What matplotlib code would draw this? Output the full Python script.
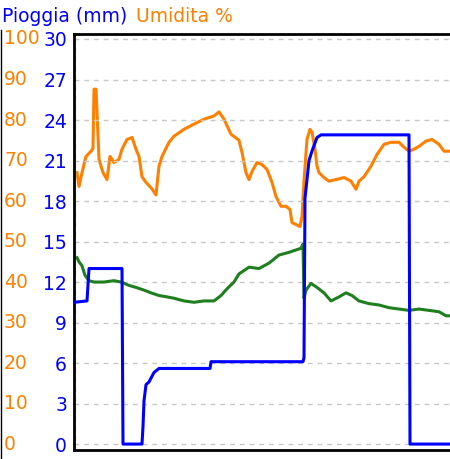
import matplotlib
matplotlib.use("Agg")
import matplotlib.pyplot as plt
from matplotlib import transforms
from matplotlib.lines import Line2D

# ---------------- data (time in minutes from chart start) ----------------
rain_t = [0, 65, 75, 240, 245, 340, 345, 350, 360, 375, 400, 425, 680, 685,
          1145, 1150, 1155, 1175, 1190, 1215, 1235, 1675, 1680, 1875]
rain_v = [10.5, 10.6, 13.0, 13.0, 0, 0, 1.3, 3.2, 4.4, 4.6, 5.3, 5.6, 5.6, 6.1,
          6.1, 6.4, 18.2, 21.0, 21.7, 22.7, 22.9, 22.9, 0, 0]

hum_t = [15, 25, 40, 60, 85, 95, 100, 110, 115, 125, 145, 165, 180, 190, 200,
         225, 240, 265, 290, 310, 325, 340, 360, 390, 410, 425, 440, 475, 500,
         550, 600, 650, 700, 725, 750, 785, 825, 840, 860, 875, 890, 915, 940,
         965, 990, 1010, 1035, 1060, 1080, 1090, 1130, 1140, 1150, 1165, 1180,
         1190, 1205, 1215, 1225, 1250, 1275, 1310, 1350, 1385, 1410, 1425, 1450,
         1485, 1515, 1550, 1585, 1625, 1650, 1675, 1700, 1725, 1760, 1790, 1825,
         1850, 1875]
hum_v = [67, 63.6, 67, 71, 72.3, 73, 87.6, 87.6, 82, 70.3, 67, 65.3, 71, 70.3,
         69.5, 70.3, 72.8, 75.2, 75.7, 72.8, 71, 66, 64.6, 63, 61.5, 68.6, 71,
         74.5, 76, 77.7, 79, 80.2, 81, 82, 80.2, 76.5, 75, 72, 67, 65.3, 67.3,
         69.5, 69, 67.8, 64.6, 61.1, 58.7, 58.7, 57.9, 54.7, 53.7, 56.2, 65,
         75.2, 77.7, 77, 72.8, 68.6, 67, 65.8, 64.9, 65.3, 65.8, 64.9, 62.9,
         64.9, 66, 68.6, 71.5, 74, 74.5, 74.5, 73.3, 72.3, 72.8, 73.5, 74.8,
         75.2, 74, 72.3, 72.3]

temp_t = [15, 25, 40, 55, 75, 100, 150, 200, 235, 275, 310, 350, 385, 425, 465,
          500, 550, 600, 650, 700, 735, 765, 800, 825, 875, 925, 975, 1025,
          1075, 1135, 1145, 1150, 1160, 1185, 1215, 1250, 1285, 1325, 1360,
          1390, 1425, 1475, 1525, 1575, 1625, 1675, 1725, 1775, 1825, 1860, 1875]
temp_v = [13.8, 13.5, 13.2, 12.5, 12.1, 12.0, 12.0, 12.1, 12.0, 11.75, 11.6,
          11.4, 11.2, 11.0, 10.9, 10.8, 10.6, 10.5, 10.6, 10.6, 11.0, 11.5,
          12.0, 12.6, 13.1, 13.0, 13.4, 14.0, 14.2, 14.5, 14.8, 10.8, 11.4,
          11.9, 11.6, 11.2, 10.6, 10.9, 11.2, 11.0, 10.6, 10.4, 10.3, 10.1,
          10.0, 9.9, 10.0, 9.9, 9.8, 9.5, 9.5]

rain_ticks = list(range(0, 31, 3))
hum_ticks = list(range(0, 101, 10))

BLUE = "#0000ff"
ORANGE = "#ff8000"
GREEN = "#1f7f1f"
GRID = "#c8c8c8"

W, H = 450, 459
fig = plt.figure(figsize=(W / 100, H / 100), dpi=100)
plt.rcParams['font.family'] = ['DejaVu Sans']

L, R, T, B = 74, 450, 34, 450
ax = fig.add_axes([L / W, 1 - B / H, (R - L) / W, (B - T) / H])
ylo, yhi = -0.44, 30.37
ax.set_ylim(ylo, yhi)
ax.set_xlim(0, 1880)

ax2 = ax.twinx()
ax2.set_ylim(ylo * 100 / 30, yhi * 100 / 30)
ax2.set_axis_off()

for v in rain_ticks:
    ax.axhline(v, color=GRID, lw=1.0, dashes=(3.5, 3.5), zorder=0.5)
ax.axvline(3, color=GRID, lw=1.0, dashes=(3.5, 3.5), zorder=0.5)

ax2.plot(hum_t, hum_v, color=ORANGE, lw=2.2, zorder=2)
ax.plot(temp_t, temp_v, color=GREEN, lw=2.2, zorder=2)
ax.plot(rain_t, rain_v, color=BLUE, lw=2.2, zorder=3)
ax.set_zorder(ax2.get_zorder() + 1)
ax.patch.set_visible(False)

ax.set_yticks(rain_ticks)
ax.set_yticklabels([str(v) for v in rain_ticks], color=BLUE, fontsize=13.5)
ax.tick_params(axis='y', length=0, pad=5)
ax.set_xticks([])

for s in ['left', 'top', 'bottom']:
    ax.spines[s].set_linewidth(2.0)
    ax.spines[s].set_color('black')
ax.spines['right'].set_visible(False)

trans = transforms.blended_transform_factory(fig.transFigure, ax2.transData)
for v in hum_ticks:
    fig.text(4 / W, v, str(v), transform=trans, color=ORANGE, fontsize=13.5,
             ha='left', va='center')

fig.text(2 / W, 1 - 16 / H, "Pioggia (mm)", color=BLUE, fontsize=13.5,
         ha='left', va='center')
fig.text(136 / W, 1 - 16 / H, "Umidita %", color=ORANGE, fontsize=13.5,
         ha='left', va='center')

fig.add_artist(Line2D([0.5 / W, 0.5 / W], [0, 1 - 30 / H], color='black',
                      lw=1.0, transform=fig.transFigure))

fig.savefig("out.png", dpi=100)
